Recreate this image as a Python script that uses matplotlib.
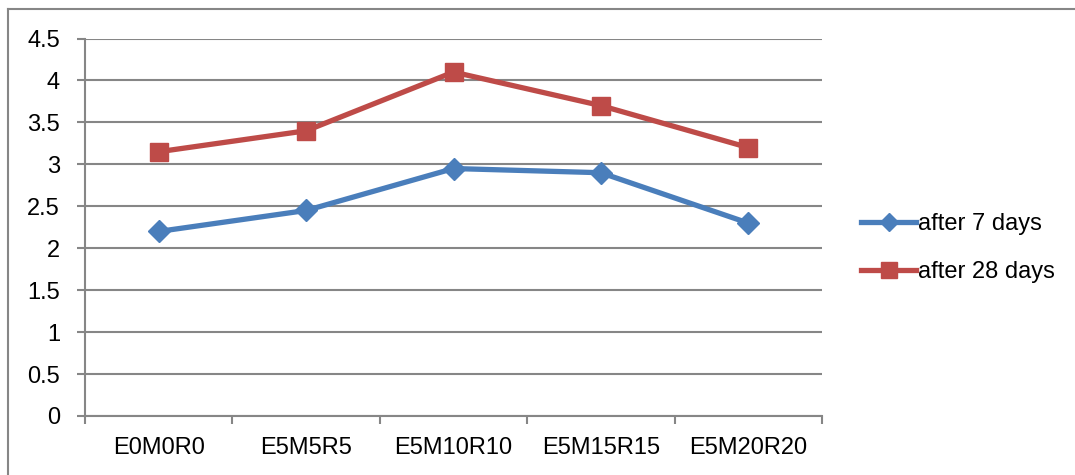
import matplotlib
matplotlib.use('Agg')
import matplotlib.pyplot as plt
from matplotlib.lines import Line2D

categories = ['E0M0R0', 'E5M5R5', 'E5M10R10', 'E5M15R15', 'E5M20R20']
after_7 = [2.2, 2.45, 2.95, 2.9, 2.3]
after_28 = [3.15, 3.4, 4.1, 3.7, 3.2]
yticks = [0, 0.5, 1, 1.5, 2, 2.5, 3, 3.5, 4, 4.5]

plt.rcParams['font.family'] = ['Liberation Sans', 'DejaVu Sans']
grid_c = '#868686'

fig = plt.figure(figsize=(10.75, 4.75), dpi=100)
ax = fig.add_axes([85/1075, 59/475, (822-85)/1075, (416-38.5)/475])

x = list(range(len(categories)))
ax.plot(x, after_7, color='#4A7EBB', lw=3.8, marker='D', ms=11, label='after 7 days', zorder=3)
ax.plot(x, after_28, color='#BE4B48', lw=3.8, marker='s', ms=13, label='after 28 days', zorder=3)

ax.set_xlim(-0.5, len(categories) - 0.5)
ax.set_ylim(0, 4.5)
ax.set_yticks(yticks)
ax.set_yticklabels([f'{v:g}' for v in yticks])
ax.set_xticks(x)
ax.set_xticklabels(categories)
ax.set_xticks([i - 0.5 for i in range(len(categories) + 1)], minor=True)

ax.grid(axis='y', color=grid_c, lw=1.5)
ax.set_axisbelow(True)
for s in ['top', 'right']:
    ax.spines[s].set_visible(False)
for s in ['left', 'bottom']:
    ax.spines[s].set_color(grid_c)
    ax.spines[s].set_linewidth(1.5)

ax.tick_params(axis='y', length=6, width=1.5, color=grid_c, labelsize=17, pad=12)
ax.tick_params(axis='x', which='major', length=0, labelsize=17, pad=15)
ax.tick_params(axis='x', which='minor', length=6, width=1.5, color=grid_c)

fig.legend(loc='center left', bbox_to_anchor=(861/1075, 1 - 248/475), frameon=False,
           fontsize=17, handlelength=2.35, handletextpad=0.08, labelspacing=1.1,
           borderpad=0, borderaxespad=0, markerscale=0.85)

# outer chart border
fig.add_artist(Line2D([8/1075, 8/1075], [0, 1 - 9/475], color=grid_c, lw=1.5))
fig.add_artist(Line2D([8/1075, 1], [1 - 9/475, 1 - 9/475], color=grid_c, lw=1.5))

fig.savefig('out.png', dpi=100)
